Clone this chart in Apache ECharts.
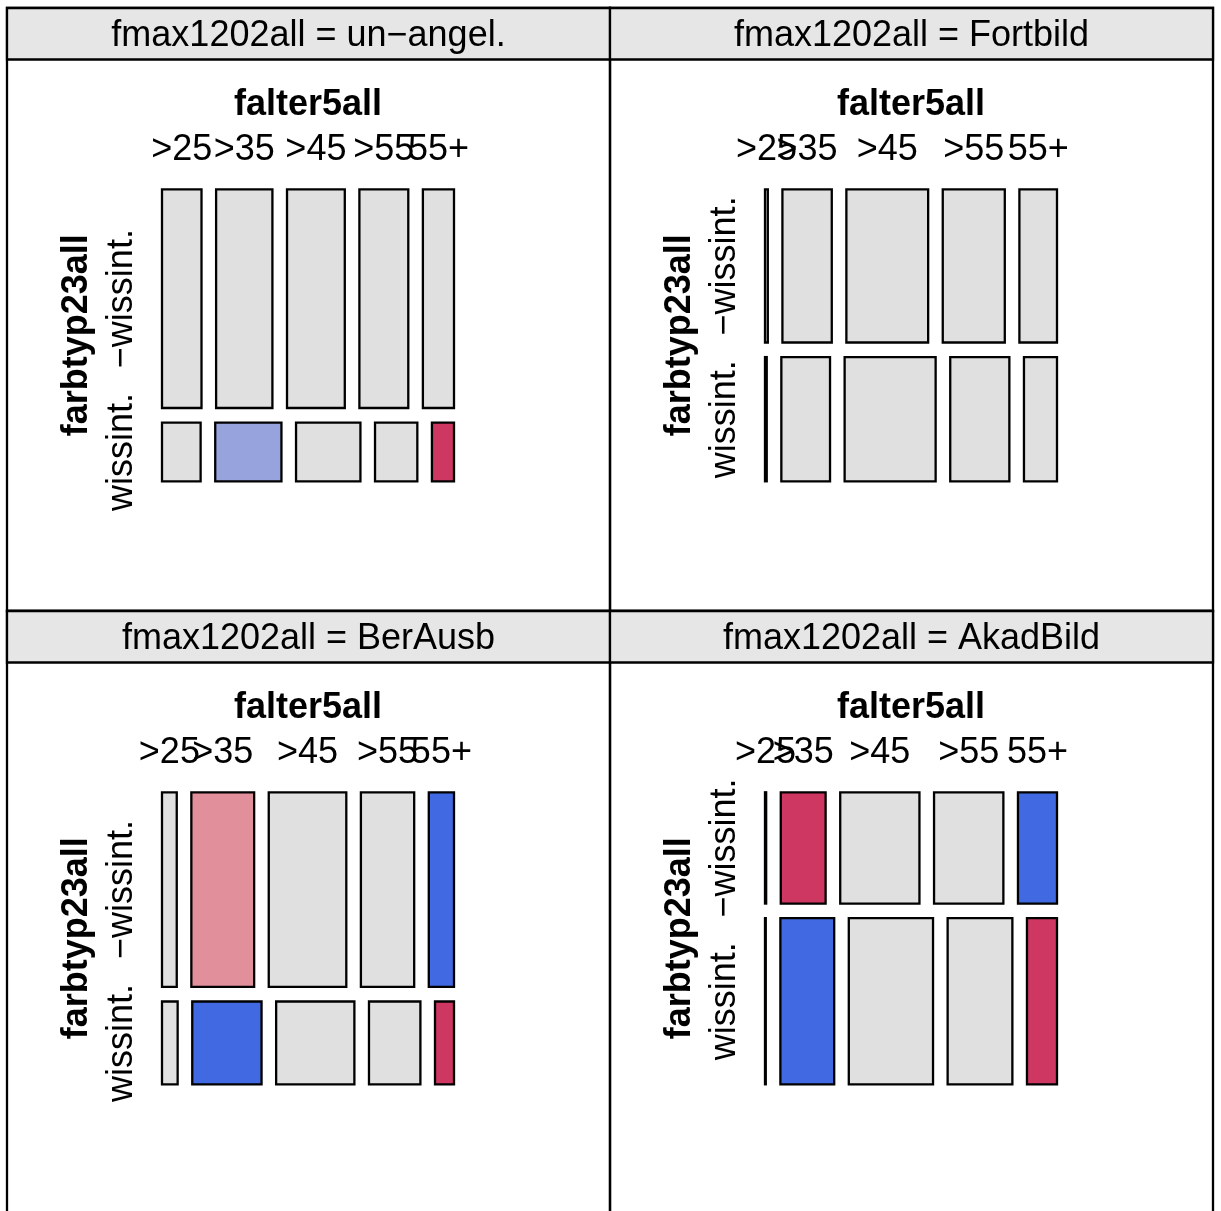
<!DOCTYPE html>
<html>
<head>
<meta charset="utf-8">
<script src="https://cdn.jsdelivr.net/npm/echarts@6/dist/echarts.min.js"></script>
<style>
html,body{margin:0;padding:0;background:#fff;}
#chart{width:1221px;height:1211px;}
</style>
</head>
<body>
<div id="chart"></div>
<script>
// ---- data ----
const panelVar = 'fmax1202all';
const panelLevels = ['un\u2212angel.', 'Fortbild', 'BerAusb', 'AkadBild'];
const colVar = 'falter5all';
const colLevels = ['>25', '>35', '>45', '>55', '55+'];
const rowVar = 'farbtyp23all';
const rowLevels = ['\u2212wissint.', 'wissint.'];

// counts: rows = farbtyp23all (−wissint., wissint.), cols = falter5all
const countsUnAngel  = [[80, 114, 117, 99, 63], [21, 36, 35, 23, 12]];
const countsFortbild = [[6, 105, 174, 132, 80], [3, 84, 157, 102, 57]];
const countsBerAusb  = [[31, 132, 163, 112, 53], [14, 62, 70, 46, 17]];
const countsAkadBild = [[2, 77, 136, 119, 67], [2, 138, 216, 166, 77]];

// residual shading class: 0 none, +1/+2 positive (blue), -1/-2 negative (red)
const residUnAngel  = [[0, 0, 0, 0, 0], [0, 1, 0, 0, -2]];
const residFortbild = [[0, 0, 0, 0, 0], [0, 0, 0, 0, 0]];
const residBerAusb  = [[0, -1, 0, 0, 2], [0, 2, 0, 0, -2]];
const residAkadBild = [[0, -2, 0, 0, 2], [0, 2, 0, 0, -2]];

const allCounts = [countsUnAngel, countsFortbild, countsBerAusb, countsAkadBild];
const allResid = [residUnAngel, residFortbild, residBerAusb, residAkadBild];

// ---- styling / layout ----
const FONT = '"Liberation Sans", Arial, Helvetica, sans-serif';
const FS = 36;
const GAP = 0.05;
const LW = 2.3;
const shadeColors = {'-2': '#CD3761', '-1': '#E28F9C', '0': '#E0E0E0', '1': '#97A3DD', '2': '#4169E1'};
const P = 603;           // panel size
const OX = 7, OY = 8;    // outer origin
const STRIP = 51.5;
const MS = 292;          // mosaic size
const gridPos = [];
for (let i = 0; i < 4; i++) {
  const c = i % 2, r = Math.floor(i / 2);
  gridPos.push({left: OX + c * P + 155, top: OY + r * P + 181.3});
}

function mosaic(counts, resid) {
  const rowTot = counts.map(r => r.reduce((a, b) => a + b, 0));
  const N = rowTot.reduce((a, b) => a + b, 0);
  const nr = counts.length, nc = counts[0].length;
  const cells = [], topLabels = [], leftLabels = [];
  let y = 0;
  for (let i = 0; i < nr; i++) {
    const h = rowTot[i] / N * (1 - GAP * (nr - 1));
    let x = 0;
    for (let j = 0; j < nc; j++) {
      const w = counts[i][j] / rowTot[i] * (1 - GAP * (nc - 1));
      cells.push([x, x + w, y, y + h, resid[i][j], counts[i][j]]);
      if (i === 0) topLabels.push([x + w / 2, 0, j]);
      x += w + GAP;
    }
    leftLabels.push([0, y + h / 2, i]);
    y += h + GAP;
  }
  return {cells, topLabels, leftLabels};
}

const txtStyle = (text, bold) => ({
  text: text, fill: '#000', font: (bold ? 'bold ' : '') + FS + 'px ' + FONT,
  align: 'center', verticalAlign: 'middle', textAlign: 'center', textVerticalAlign: 'middle'
});

const grids = [], xAxes = [], yAxes = [], series = [];
for (let p = 0; p < 4; p++) {
  const m = mosaic(allCounts[p], allResid[p]);
  grids.push({left: gridPos[p].left, top: gridPos[p].top, width: MS, height: MS});
  xAxes.push({type: 'value', gridIndex: p, min: 0, max: 1, show: false});
  yAxes.push({type: 'value', gridIndex: p, min: 0, max: 1, inverse: true, show: false});
  series.push({
    type: 'custom', xAxisIndex: p, yAxisIndex: p, data: m.cells,
    renderItem: function (params, api) {
      const a = api.coord([api.value(0), api.value(2)]);
      const b = api.coord([api.value(1), api.value(3)]);
      return {
        type: 'rect',
        shape: {x: a[0], y: a[1], width: b[0] - a[0], height: b[1] - a[1]},
        style: {fill: shadeColors[String(api.value(4))], stroke: '#000', lineWidth: LW}
      };
    }
  });
  series.push({
    type: 'custom', xAxisIndex: p, yAxisIndex: p, data: m.topLabels,
    renderItem: function (params, api) {
      const a = api.coord([api.value(0), api.value(1)]);
      return {type: 'text', x: a[0], y: a[1] - 39, style: txtStyle(colLevels[api.value(2)], false)};
    }
  });
  series.push({
    type: 'custom', xAxisIndex: p, yAxisIndex: p, data: m.leftLabels,
    renderItem: function (params, api) {
      const a = api.coord([api.value(0), api.value(1)]);
      return {type: 'text', x: a[0] - 40, y: a[1], rotation: Math.PI / 2,
              style: txtStyle(rowLevels[api.value(2)], false)};
    }
  });
}

// frames, strips and variable names
const graphics = [];
for (let p = 0; p < 4; p++) {
  const c = p % 2, r = Math.floor(p / 2);
  const x0 = OX + c * P, y0 = OY + r * P;
  graphics.push({type: 'rect', shape: {x: x0, y: y0, width: P, height: P},
    style: {fill: 'none', stroke: '#000', lineWidth: LW}, z: 10});
  graphics.push({type: 'rect', shape: {x: x0, y: y0, width: P, height: STRIP},
    style: {fill: '#E6E6E6', stroke: '#000', lineWidth: LW}, z: 11});
  graphics.push({type: 'text', x: x0 + P / 2, y: y0 + 28.5, z: 12,
    style: txtStyle(panelVar + ' = ' + panelLevels[p], false)});
  const g = gridPos[p];
  graphics.push({type: 'text', x: g.left + MS / 2, y: g.top - 84, z: 12,
    style: txtStyle(colVar, true)});
  graphics.push({type: 'text', x: g.left - 85, y: g.top + MS / 2, rotation: Math.PI / 2, z: 12,
    style: txtStyle(rowVar, true)});
}

const chart = echarts.init(document.getElementById('chart'), null, {renderer: 'canvas'});
chart.setOption({
  animation: false,
  backgroundColor: '#fff',
  grid: grids, xAxis: xAxes, yAxis: yAxes, series: series,
  graphic: graphics
});
</script>
</body>
</html>
